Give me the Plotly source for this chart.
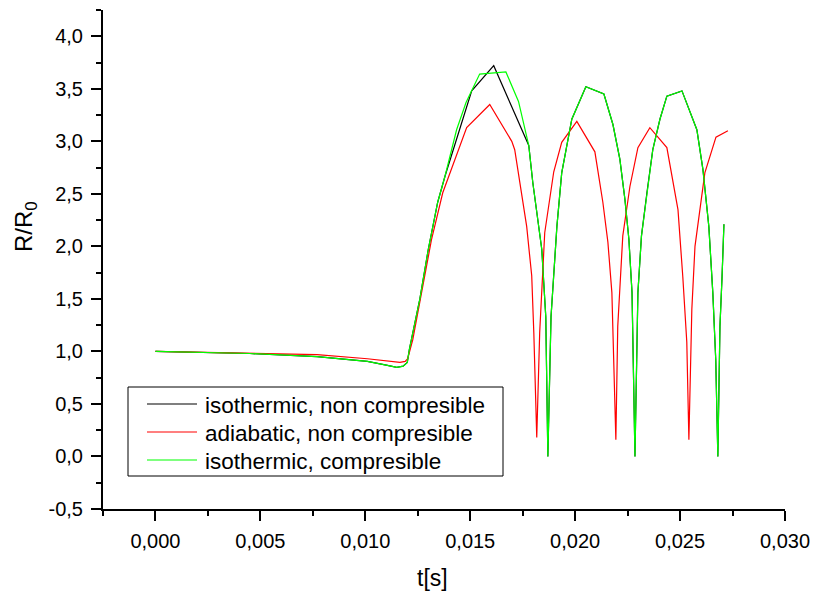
import plotly.graph_objects as go

# ---- data ----
series_names = ["isothermic, non compresible", "adiabatic, non compresible", "isothermic, compresible"]
series_colors = ["#000000", "#ff0000", "#00ff00"]

t_green = [0.0000, 0.0045, 0.0077, 0.0101, 0.0110, 0.0115, 0.0118, 0.0120, 0.0121, 0.0126,
           0.0130, 0.01345, 0.0138, 0.01435, 0.0148, 0.01545, 0.0167, 0.0173, 0.01779, 0.01798,
           0.01841, 0.0186, 0.0187, 0.01885, 0.01913, 0.01936, 0.01984, 0.02051, 0.02137, 0.0218,
           0.02213, 0.02237, 0.02256, 0.02271, 0.02285, 0.02299, 0.02316, 0.02342, 0.0237, 0.02404,
           0.02437, 0.02509, 0.0258, 0.02609, 0.02637, 0.02656, 0.0267, 0.0268, 0.0269, 0.0270, 0.02709]
r_green = [1.000, 0.980, 0.950, 0.905, 0.870, 0.848, 0.860, 0.895, 1.02, 1.50,
           1.97, 2.42, 2.67, 3.11, 3.37, 3.64, 3.66, 3.38, 2.96, 2.61,
           1.97, 1.33, 0.00, 1.33, 2.19, 2.70, 3.21, 3.52, 3.45, 3.16,
           2.83, 2.45, 2.07, 1.56, 0.00, 1.56, 2.10, 2.51, 2.92, 3.21,
           3.43, 3.48, 3.11, 2.73, 2.19, 1.56, 0.92, 0.00, 1.24, 1.71, 2.21]

t_black = [0.0000, 0.0045, 0.0077, 0.0101, 0.0110, 0.0115, 0.0118, 0.0120, 0.0121, 0.0126,
           0.0130, 0.01345, 0.0138, 0.01507, 0.01612, 0.01779, 0.01798,
           0.01841, 0.0186, 0.0187, 0.01885, 0.01913, 0.01936, 0.01984, 0.02051, 0.02137, 0.0218,
           0.02213, 0.02237, 0.02256, 0.02271, 0.02285, 0.02299, 0.02316, 0.02342, 0.0237, 0.02404,
           0.02437, 0.02509, 0.0258, 0.02609, 0.02637, 0.02656, 0.0267, 0.0268, 0.0269, 0.0270, 0.02709]
r_black = [1.000, 0.980, 0.950, 0.905, 0.870, 0.848, 0.860, 0.895, 1.02, 1.50,
           1.97, 2.42, 2.67, 3.48, 3.72, 2.96, 2.61,
           1.97, 1.33, 0.00, 1.33, 2.19, 2.70, 3.21, 3.52, 3.45, 3.16,
           2.83, 2.45, 2.07, 1.56, 0.00, 1.56, 2.10, 2.51, 2.92, 3.21,
           3.43, 3.48, 3.11, 2.73, 2.19, 1.56, 0.92, 0.00, 1.24, 1.71, 2.21]

t_red = [0.0000, 0.0045, 0.0077, 0.0101, 0.0112, 0.01165, 0.0119, 0.01202, 0.01226, 0.01269,
         0.01316, 0.01369, 0.01483, 0.01593, 0.01698, 0.01712, 0.01746, 0.01769, 0.01793, 0.01803,
         0.01817, 0.01831, 0.01855, 0.01898, 0.01936, 0.02008, 0.02094, 0.02132, 0.02156, 0.02175,
         0.02194, 0.02203, 0.02227, 0.02261, 0.02299, 0.02356, 0.02437, 0.0249, 0.02513, 0.02532,
         0.02542, 0.02556, 0.02571, 0.02595, 0.02618, 0.02671, 0.02728]
r_red = [1.000, 0.985, 0.970, 0.930, 0.905, 0.895, 0.905, 0.93, 1.11, 1.56,
         2.07, 2.51, 3.13, 3.35, 3.00, 2.92, 2.48, 2.19, 1.72, 1.18,
         0.18, 1.18, 2.13, 2.71, 2.99, 3.19, 2.90, 2.42, 2.04, 1.56,
         0.16, 1.24, 2.10, 2.57, 2.94, 3.13, 2.94, 2.35, 1.71, 1.09,
         0.16, 1.40, 2.00, 2.38, 2.70, 3.04, 3.10]

x_tick_vals = [0.000, 0.005, 0.010, 0.015, 0.020, 0.025, 0.030]
x_tick_text = ["0,000", "0,005", "0,010", "0,015", "0,020", "0,025", "0,030"]
y_tick_vals = [-0.5, 0.0, 0.5, 1.0, 1.5, 2.0, 2.5, 3.0, 3.5, 4.0]
y_tick_text = ["-0,5", "0,0", "0,5", "1,0", "1,5", "2,0", "2,5", "3,0", "3,5", "4,0"]

x_title = "t[s]"
y_title = "R/R<sub>0</sub>"

FONT = "Liberation Sans, Arial, sans-serif"

# plot-area geometry (pixels) used to place the hand-made legend
L, R_, T, B = 103, 785, 10, 509
def px(xp):
    return (xp - L) / (R_ - L)
def py(yp):
    return (B - yp) / (B - T)

fig = go.Figure()
traces = [(t_black, r_black), (t_red, r_red), (t_green, r_green)]
for (t, r), name, col in zip(traces, series_names, series_colors):
    fig.add_trace(go.Scatter(x=t, y=r, mode="lines", name=name, showlegend=False,
                             line=dict(color=col, width=1.2)))

axis_common = dict(showgrid=False, zeroline=False, showline=True, linecolor="black",
                   linewidth=2, ticks="outside", ticklen=10, tickwidth=2, tickcolor="black",
                   tickfont=dict(family=FONT, size=20, color="black"), mirror=False,
                   automargin=False, tickmode="array")

fig.update_xaxes(range=[-0.0025, 0.030], tickvals=x_tick_vals, ticktext=x_tick_text,
                 ticklabelstandoff=3,
                 minor=dict(tickmode="linear", dtick=0.0025, tick0=0, ticks="outside", ticklen=5,
                            tickwidth=2, tickcolor="black", showgrid=False),
                 **axis_common)
fig.update_yaxes(range=[-0.5, 4.25], tickvals=y_tick_vals, ticktext=y_tick_text,
                 ticklabelstandoff=4,
                 minor=dict(tickmode="linear", dtick=0.25, tick0=0, ticks="outside", ticklen=5,
                            tickwidth=2, tickcolor="black", showgrid=False),
                 **axis_common)

shapes = [dict(type="rect", xref="paper", yref="paper",
               x0=px(128), x1=px(503), y0=py(476), y1=py(387),
               line=dict(color="black", width=1), fillcolor="white", layer="above")]
annotations = []
row_y = [404, 432, 460]
for name, col, ry in zip(series_names, series_colors, row_y):
    shapes.append(dict(type="line", xref="paper", yref="paper",
                       x0=px(147), x1=px(197), y0=py(ry), y1=py(ry),
                       line=dict(color=col, width=1.2), layer="above"))
    annotations.append(dict(text=name, xref="paper", yref="paper", x=px(203), y=py(ry + 1),
                            showarrow=False, xanchor="left", yanchor="middle",
                            font=dict(family=FONT, size=22.5, color="black")))

annotations += [
    dict(text=x_title, xref="paper", yref="paper", x=px(432), y=py(578),
         showarrow=False, font=dict(family=FONT, size=23, color="black"),
         xanchor="center", yanchor="middle"),
    dict(text=y_title, xref="paper", yref="paper", x=px(25), y=py(227),
         showarrow=False, textangle=-90, font=dict(family=FONT, size=24, color="black"),
         xanchor="center", yanchor="middle"),
]

fig.update_layout(
    width=813, height=593,
    margin=dict(l=L, r=813 - R_, t=T, b=593 - B),
    paper_bgcolor="white", plot_bgcolor="white",
    font=dict(family=FONT, color="black"),
    showlegend=False,
    shapes=shapes,
    annotations=annotations,
)

fig.write_html("out.html")
